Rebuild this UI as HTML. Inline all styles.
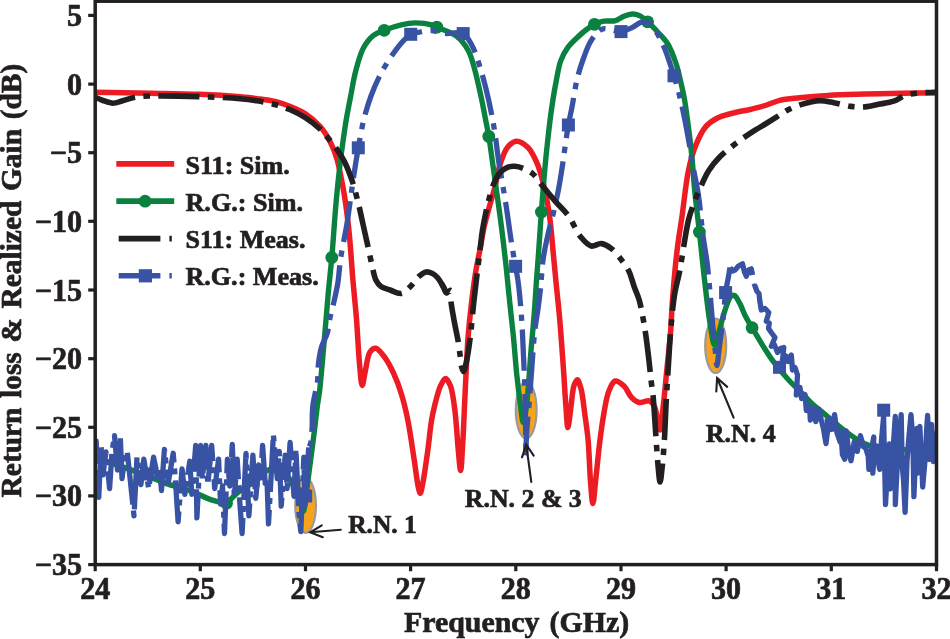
<!DOCTYPE html>
<html lang="en"><head><meta charset="utf-8"><title>Return loss &amp; Realized Gain</title>
<style>html,body{margin:0;padding:0;background:#fff;overflow:hidden}svg{display:block}text{font-family:"Liberation Serif","Times New Roman",Times,serif;font-weight:bold;fill:#231f20;stroke:#231f20;stroke-width:0.7px;stroke-linejoin:round}</style></head><body>
<svg width="950" height="639" viewBox="0 0 950 639">
<rect width="950" height="639" fill="#fff"/>
<defs><clipPath id="plot"><rect x="95.2" y="1.2" width="841.3" height="563.4"/></clipPath></defs>
<g fill="#f9a21b" stroke="#9a9a9c" stroke-width="2.2">
<ellipse cx="305.6" cy="505.5" rx="10.3" ry="27.4"/>
<ellipse cx="526.2" cy="410.1" rx="10.4" ry="28.2"/>
<ellipse cx="715.7" cy="345.8" rx="10.5" ry="27.2"/>
</g>
<g clip-path="url(#plot)" fill="none" stroke-linejoin="round">
<path d="M94.0 92.3C112.7 92.6 131.9 92.9 150.0 93.2C167.1 93.5 184.3 93.6 200.0 94.3C214.1 94.9 229.5 95.9 240.0 96.8C246.9 97.4 251.3 97.8 257.0 98.6C262.9 99.4 269.4 100.1 275.0 101.5C280.2 102.7 284.8 104.3 289.7 106.2C294.8 108.2 300.1 110.3 305.0 113.5C310.3 116.9 315.7 121.4 320.0 126.3C324.2 131.1 327.7 137.0 330.5 142.5C333.2 147.7 335.1 152.8 336.8 158.5C338.7 164.6 339.9 171.4 341.2 178.0C342.5 184.6 343.7 190.6 344.8 198.0C346.2 207.1 347.6 218.3 348.7 228.4C349.8 238.5 350.6 249.5 351.3 258.7C351.9 266.4 352.2 271.9 352.9 280.0C353.8 290.8 355.3 304.7 356.4 317.9C357.6 332.4 358.3 351.0 359.5 363.4C360.3 372.1 361.1 385.5 362.2 385.5C363.1 385.5 364.1 376.1 365.3 371.0C366.7 365.1 367.4 355.7 370.0 352.0C371.5 349.8 373.6 348.0 375.6 348.2C378.1 348.4 381.0 352.5 383.6 355.8C387.1 360.3 390.8 367.3 393.7 373.5C396.7 379.9 399.1 386.5 401.3 393.7C403.8 401.6 405.7 409.6 407.6 419.0C410.0 430.5 412.0 445.7 413.9 457.9C415.6 468.6 417.1 482.4 418.5 488.2C419.1 490.6 419.6 493.3 420.2 493.3C421.0 493.3 421.9 487.6 422.8 483.2C424.4 475.4 426.3 461.1 427.8 450.3C429.2 440.0 430.2 428.3 431.6 420.0C432.6 414.1 433.5 410.3 434.8 405.0C436.3 399.0 438.2 390.9 440.4 386.1C441.9 382.9 443.8 378.5 445.5 378.5C447.2 378.5 449.1 382.6 450.5 386.1C452.8 391.9 453.8 402.2 455.0 411.4C456.4 422.4 457.1 437.3 458.1 448.0C458.9 456.4 459.9 470.5 460.6 470.5C461.4 470.5 462.2 452.3 462.8 442.0C463.6 429.8 464.1 414.6 464.7 402.0C465.2 390.7 465.7 380.7 466.2 370.0C466.8 359.3 467.2 348.5 468.0 337.7C468.9 326.8 470.0 315.8 471.3 304.8C472.6 293.8 474.1 281.5 475.7 271.9C476.9 264.4 478.1 259.1 479.5 252.0C481.1 243.7 482.7 233.4 484.6 225.0C486.3 217.5 488.3 210.5 490.1 204.0C491.7 198.3 493.2 193.9 494.7 188.0C496.6 180.6 498.0 170.3 500.5 163.0C502.6 157.0 504.6 150.7 507.8 147.0C510.3 144.1 513.4 141.4 516.6 141.3C520.1 141.2 524.8 144.5 528.0 147.6C531.7 151.2 534.3 157.1 536.8 162.7C539.5 168.8 541.3 175.4 543.2 183.0C545.6 192.6 547.8 204.4 549.5 215.8C551.3 227.9 552.2 242.2 553.3 253.7C554.2 263.3 554.9 270.4 555.8 280.0C556.9 291.5 558.4 304.4 559.6 317.9C561.0 333.5 562.3 352.8 563.4 368.4C564.4 381.9 565.0 395.5 565.9 406.3C566.5 414.4 567.1 427.5 567.9 427.5C568.8 427.5 570.0 413.3 571.0 406.3C572.0 399.4 572.4 390.3 574.0 385.6C574.9 383.0 576.2 379.7 577.3 379.8C578.6 379.9 579.9 384.8 581.0 388.6C582.7 394.8 583.6 405.4 584.8 413.9C586.0 422.5 587.2 430.4 588.1 440.0C589.2 451.9 589.5 468.5 590.4 480.0C591.1 488.8 592.0 503.4 592.9 503.4C593.8 503.4 594.7 488.8 595.7 480.0C597.0 468.4 598.5 451.9 600.0 440.0C601.2 430.4 602.3 422.3 603.8 413.9C605.2 406.0 606.4 397.1 608.8 391.2C610.5 386.9 612.5 381.7 615.2 381.0C617.7 380.4 621.4 383.7 624.0 386.1C627.0 388.9 628.7 394.7 631.6 397.5C633.9 399.8 636.4 401.9 639.2 402.5C642.2 403.1 646.7 399.9 649.3 400.8C651.5 401.6 653.0 403.8 654.3 406.3C656.2 409.9 657.0 417.2 658.1 421.5C658.9 424.7 659.5 430.0 660.2 430.0C661.3 429.9 662.2 415.1 663.2 406.3C664.5 395.1 665.7 381.0 667.0 368.4C668.2 355.8 669.8 342.5 670.7 330.5C671.5 319.8 671.6 311.3 672.5 300.0C673.6 285.6 675.2 266.1 677.0 251.2C678.5 238.4 680.3 228.3 682.1 215.8C684.1 201.6 685.8 183.0 688.5 170.2C690.6 160.6 692.6 152.9 695.7 145.4C698.5 138.6 701.6 131.6 705.6 126.9C708.9 123.0 712.8 120.5 717.0 118.3C721.3 116.0 726.1 114.9 731.3 113.5C737.3 111.8 745.1 110.6 751.2 109.2C756.3 108.0 760.7 107.0 765.4 105.5C770.2 104.0 774.5 101.7 779.7 100.4C785.7 99.0 792.4 98.6 799.6 97.8C808.2 96.9 818.0 96.1 828.1 95.5C839.6 94.8 852.8 94.5 865.1 94.1C877.5 93.7 889.9 93.5 902.2 93.3C914.2 93.1 926.1 92.9 938.0 92.7" stroke="#ed1c24" stroke-width="5.5"/>
<path d="M94.0 457.5C101.1 459.8 107.9 461.9 115.3 464.4C123.4 467.1 132.1 470.2 140.5 473.3C149.0 476.5 157.3 480.4 165.8 483.4C174.1 486.3 183.1 488.1 191.0 491.0C198.2 493.6 204.9 497.9 211.3 499.8C216.6 501.4 222.1 503.5 226.4 502.3C230.4 501.2 232.7 496.4 236.5 493.5C241.0 490.1 246.7 487.1 251.7 483.4C256.9 479.5 262.1 473.1 266.9 470.7C270.4 468.9 273.8 467.6 277.0 468.2C280.5 468.8 284.2 471.8 287.0 475.0C290.4 478.7 292.7 485.2 295.0 490.0C297.0 494.2 298.5 498.3 300.0 502.0C301.3 505.2 302.4 511.1 303.3 511.0C304.2 510.9 304.6 505.7 305.2 502.0C306.2 496.3 307.0 487.6 308.0 480.0C309.0 471.9 310.2 463.3 311.3 455.0C312.4 446.7 313.5 438.3 314.5 430.0C315.5 421.7 316.5 412.3 317.5 405.0C318.3 399.4 318.9 396.4 319.7 390.0C321.0 378.7 322.6 359.1 324.0 343.2C325.5 326.7 326.9 307.9 328.3 292.6C329.5 279.8 330.6 270.6 331.8 257.5C333.3 240.7 334.7 217.4 336.3 200.0C337.6 185.5 339.2 171.0 340.5 160.0C341.4 152.2 342.3 146.7 343.2 140.0C344.2 133.3 345.0 127.0 346.2 120.0C347.5 112.4 349.1 104.1 350.7 96.0C352.3 87.7 353.6 78.8 355.8 70.7C357.9 62.9 360.0 54.2 363.4 48.0C366.2 42.9 369.7 38.4 373.5 35.4C376.8 32.8 380.2 31.9 384.2 30.3C389.2 28.3 395.8 26.0 401.3 24.8C406.1 23.7 410.5 22.9 415.3 22.9C420.5 22.9 427.7 23.7 431.6 24.8C433.9 25.4 434.5 26.1 436.8 27.1C441.3 29.1 451.5 32.2 456.9 36.4C461.9 40.3 465.6 45.6 468.5 51.0C471.4 56.4 472.6 62.1 474.5 68.7C476.8 76.8 479.0 87.1 480.9 96.0C482.8 104.6 484.5 113.9 485.9 121.3C487.0 127.0 487.9 130.8 488.8 136.4C490.0 143.4 491.2 152.7 492.2 160.0C493.1 166.4 493.7 170.6 494.7 177.9C496.3 189.6 499.1 208.4 501.0 223.4C502.9 237.9 504.6 252.9 506.1 266.3C507.4 278.2 508.3 288.6 509.5 300.0C510.7 311.7 512.1 323.3 513.3 335.5C514.6 348.3 515.5 362.6 516.8 375.0C518.0 386.0 519.4 397.3 520.6 406.0C521.5 412.4 522.2 422.5 523.2 422.5C524.1 422.5 525.4 413.6 526.2 408.0C527.3 400.4 528.0 390.3 528.8 381.0C529.6 371.2 530.1 361.4 531.0 350.7C532.0 338.8 533.4 325.0 534.3 312.8C535.2 301.5 535.8 290.3 536.5 280.0C537.2 270.7 537.8 263.5 538.5 253.7C539.4 241.4 540.3 226.3 541.4 212.0C542.5 196.9 543.9 179.1 545.2 165.3C546.2 154.4 547.1 145.8 548.2 136.0C549.3 126.1 550.6 115.3 552.0 106.0C553.2 97.9 554.3 90.9 555.8 83.4C557.3 75.8 558.4 67.1 560.8 60.6C562.8 55.2 565.5 50.6 568.4 46.7C570.9 43.2 573.9 40.6 576.8 37.9C579.6 35.3 582.3 32.8 585.3 30.5C588.2 28.2 591.3 25.9 594.5 24.3C597.5 22.8 600.5 21.8 603.8 21.2C607.5 20.5 612.1 21.6 615.6 20.6C618.7 19.7 621.1 17.3 624.0 16.2C626.7 15.1 629.7 14.1 632.4 14.0C634.8 13.9 636.9 14.4 639.2 15.4C642.0 16.7 644.8 19.3 647.6 21.8C650.9 24.7 654.4 28.4 657.7 32.0C661.1 35.8 664.9 39.2 667.8 44.0C671.2 49.6 673.9 57.2 676.2 64.0C678.4 70.6 679.8 77.9 681.3 84.2C682.6 89.8 683.6 94.5 684.6 100.0C685.6 105.8 686.4 111.9 687.2 118.0C688.1 124.2 688.9 130.4 689.7 137.0C690.6 144.3 691.4 151.8 692.2 160.0C693.1 169.4 693.6 179.6 694.7 190.5C695.9 203.3 697.8 217.9 699.4 232.0C701.0 246.7 702.5 262.0 704.2 277.0C706.0 292.1 707.8 310.0 709.9 322.5C711.4 331.4 712.9 345.2 714.7 345.3C716.3 345.4 718.2 334.1 719.9 328.2C721.8 321.8 723.5 314.1 725.6 308.3C727.3 303.6 729.2 297.3 731.3 295.8C732.3 295.1 733.4 295.0 734.5 295.5C736.3 296.4 738.1 300.4 739.8 303.4C741.8 307.1 743.4 312.2 745.5 316.3C747.5 320.3 749.6 323.5 752.1 327.7C755.2 332.9 759.0 339.5 762.6 345.3C766.3 351.1 769.8 356.8 774.0 362.4C778.3 368.2 783.1 373.9 788.2 379.5C793.5 385.3 801.2 392.3 805.3 396.6C807.7 399.1 808.5 400.3 811.0 402.7C815.1 406.6 822.4 412.2 828.1 417.0C833.8 421.7 839.4 426.9 845.2 431.2C850.8 435.4 856.4 439.7 862.3 442.6C867.8 445.3 873.6 447.0 879.4 448.3C885.0 449.6 890.8 450.6 896.5 450.6C902.2 450.6 907.4 449.1 913.6 448.3C921.0 447.3 929.9 446.1 938.0 445.0" stroke="#0b8140" stroke-width="5.4"/>
<g fill="#0b8140" stroke="none">
<circle cx="226.5" cy="503.2" r="6.4"/>
<circle cx="331.8" cy="257.5" r="6.4"/>
<circle cx="384.2" cy="30.3" r="6.4"/>
<circle cx="436.8" cy="27.1" r="6.4"/>
<circle cx="488.8" cy="136.4" r="6.4"/>
<circle cx="541.4" cy="212.0" r="6.4"/>
<circle cx="594.5" cy="24.3" r="6.4"/>
<circle cx="647.6" cy="21.8" r="6.4"/>
<circle cx="699.4" cy="232.0" r="6.4"/>
<circle cx="752.1" cy="327.7" r="6.4"/>
</g>
<path d="M94.0 470.0L96.2 441.0L98.8 497.3L101.0 445.0L103.0 474.8L106.0 452.0L109.6 488.5L112.0 452.0L114.5 435.7L117.5 470.0L120.3 436.6L122.0 478.7L124.6 458.0L127.2 451.3L130.1 478.7L134.0 515.9L137.0 457.2L140.9 484.6L143.8 459.2L148.7 488.5L153.6 457.2L157.5 476.8L159.5 468.0L161.5 490.5L164.4 449.4L168.3 482.6L173.2 453.3L175.2 476.8L178.1 521.8L182.0 468.9L184.9 494.4L189.8 461.1L191.8 494.4L195.7 445.5L196.9 517.9L200.6 445.5L202.3 478.7L205.9 445.5L207.8 484.6L211.7 445.5L214.7 488.5L218.6 459.2L220.6 504.2L222.5 486.0L224.5 533.5L227.4 459.2L229.8 486.0L232.3 444.5L234.3 496.4L237.2 459.2L239.5 498.0L242.1 533.5L246.0 453.3L248.9 515.9L252.9 455.2L255.8 498.3L258.7 465.0L260.6 478.0L262.6 445.5L265.6 488.5L267.0 480.0L268.5 523.8L273.4 434.7L277.3 478.7L279.3 451.3L281.2 506.1L285.2 455.2L287.1 488.5L290.1 442.5L294.0 496.4L295.9 449.4L298.9 512.0L300.8 531.6L303.8 457.2L305.2 505.0L306.7 478.7L308.7 447.4" stroke="#3953a4" stroke-width="5.3" stroke-dasharray="52 6 6 6"/>
<path d="M730.0 267.5L732.5 271.0L735.0 270.0L738.5 266.0L742.5 263.8L744.5 272.0L746.3 276.3L748.8 270.0L751.3 268.8L752.6 275.0 M752.6 287.0L755.0 286.0L757.0 291.5L759.0 293.5L759.8 301.0L761.3 310.0L765.0 308.5L768.8 312.5L766.3 321.3L769.3 323.0L768.5 328.5L771.3 332.5L775.0 337.5L771.3 346.3L774.3 344.5L777.5 352.5L780.5 348.5L783.8 347.5L782.5 360.0L786.0 356.0L788.0 361.5L791.3 355.0L792.5 370.0L795.0 367.5L797.5 375.0L796.3 395.0L800.0 387.5L801.5 398.5L805.0 394.5L806.3 410.5L809.6 406.0L810.3 420.0L813.5 407.6L815.8 421.6L819.0 409.1L821.3 420.0L823.6 429.5L826.0 443.6L829.1 418.5L831.5 429.5L834.6 414.6L836.9 432.6L840.1 442.0L840.9 431.0L842.4 454.5L844.8 459.2L846.3 431.0L848.7 451.4L851.0 460.8L854.2 442.0L857.3 451.4L860.4 435.7L863.5 446.7L865.0 445.9L868.2 456.1L868.9 469.3L871.4 450.0L873.8 437.0L872.8 473.2L874.5 450.0L876.7 445.9L878.0 460.0L879.7 469.3L881.5 440.0L883.6 416.5L885.5 504.5L887.5 470.0L889.4 443.9L890.4 488.9L893.0 450.0L895.3 416.5L895.3 504.5L898.0 450.0L901.2 414.6L902.2 465.4L903.5 480.0L905.1 512.4L907.1 459.5L909.0 436.0L911.0 414.6L912.9 440.0L913.9 496.7L915.4 460.0L916.8 428.3L917.8 473.2L919.8 426.3L921.3 455.0L922.7 487.0L925.6 453.7L926.6 430.0L927.6 415.5L929.5 459.5L931.5 424.3L933.5 461.5L935.0 434.0L938.0 448.0" stroke="#3953a4" stroke-width="5.3" stroke-dasharray="none"/>
<path d="M308.7 447.4C309.3 446.1 310.1 445.3 310.6 443.5C311.5 440.4 311.6 435.0 312.0 429.8C312.5 423.0 311.9 414.0 312.8 406.0C313.7 397.7 316.6 388.7 317.5 381.0C318.3 374.5 317.8 368.8 318.5 363.0C319.2 357.5 320.0 352.1 321.5 347.0C323.0 342.1 326.0 337.7 327.3 333.0C328.5 328.7 328.5 324.8 329.5 320.0C330.7 314.1 332.9 306.7 334.3 300.2C335.7 294.0 337.0 288.5 338.0 282.0C339.1 274.7 339.3 267.2 340.6 258.7C342.1 248.1 345.1 235.2 347.0 223.4C348.9 211.6 350.4 198.8 352.0 188.0C353.3 178.9 354.6 170.0 355.8 162.7C356.7 157.1 357.3 153.5 358.3 147.8C359.7 140.2 361.3 130.0 363.4 121.3C365.5 112.7 368.0 104.1 371.0 96.0C373.9 88.1 377.2 80.5 381.0 73.3C384.8 66.2 389.5 58.9 393.7 53.0C397.1 48.2 400.6 43.7 403.8 40.4C406.2 37.9 408.0 35.7 410.7 34.3C413.4 32.9 416.7 32.6 420.0 32.0C423.6 31.3 427.9 30.3 431.6 30.5C435.1 30.7 438.8 32.5 441.6 33.0C443.6 33.3 444.5 33.4 446.7 33.5C450.6 33.7 458.9 31.4 463.2 33.6C467.2 35.7 469.4 40.8 472.0 45.5C475.1 51.2 477.3 58.7 479.6 65.7C482.0 73.0 484.0 80.8 485.9 88.4C487.8 96.0 489.5 103.8 491.0 111.2C492.4 118.1 493.5 124.1 494.7 131.4C496.1 140.1 497.5 153.5 498.5 160.0C499.0 163.4 499.2 164.2 499.8 167.8C501.1 175.7 504.2 193.3 506.1 205.7C508.0 217.7 509.5 230.2 511.2 241.0C512.6 250.1 514.2 259.2 515.4 266.3C516.3 271.6 517.1 274.4 517.9 280.0C519.1 288.6 520.3 301.1 521.2 312.8C522.2 326.2 522.9 341.9 523.5 355.8C524.1 368.8 524.6 381.1 525.0 393.7C525.3 406.3 525.5 420.4 525.6 431.6C525.7 440.5 525.7 447.5 525.8 455.4" stroke="#3953a4" stroke-width="5.3" stroke-dasharray="41 8.5 6.5 8.5" stroke-dashoffset="-16"/>
<path d="M525.8 455.4C526.1 447.5 526.2 440.0 526.7 431.6C527.3 422.1 528.5 411.6 529.3 401.3C530.2 390.6 530.9 379.8 531.8 368.4C532.7 356.2 533.6 341.4 534.8 330.5C535.8 322.1 537.1 315.6 538.1 308.3C539.0 301.3 539.8 295.1 540.6 287.6C541.5 278.8 541.9 268.0 543.2 258.7C544.5 250.0 546.4 241.4 548.2 233.5C549.8 226.4 551.7 220.3 553.3 213.3C555.0 205.9 556.8 198.1 558.3 190.5C559.8 182.9 561.0 174.9 562.1 167.8C563.1 161.5 563.7 156.4 564.6 150.0C565.7 142.4 567.0 132.7 568.4 125.0C569.6 118.2 570.9 112.9 572.2 106.0C573.8 97.6 575.2 86.8 577.3 78.3C579.1 71.0 581.2 64.5 583.6 58.0C585.9 51.9 587.8 45.4 591.2 40.4C594.3 35.9 598.5 30.4 602.5 29.0C605.6 27.9 608.9 29.6 612.0 30.0C615.0 30.4 617.9 31.9 621.0 31.6C624.4 31.3 628.2 29.4 631.6 27.8C635.1 26.2 638.5 22.9 641.7 22.2C644.3 21.6 647.0 21.5 649.3 22.7C652.2 24.3 654.5 29.0 656.9 32.8C659.6 37.2 662.1 42.7 664.4 48.0C666.8 53.6 669.0 60.6 670.7 65.7C672.0 69.5 672.8 71.8 674.0 75.8C675.7 81.4 677.9 89.0 679.6 96.0C681.4 103.3 683.0 110.7 684.6 118.7C686.4 127.5 688.4 138.9 689.7 146.5C690.6 151.8 690.8 154.4 691.7 160.0C693.2 169.1 696.7 183.5 698.5 195.6C700.4 208.2 701.2 222.3 702.8 234.2C704.1 244.4 705.9 253.2 707.1 262.7C708.3 272.2 709.0 281.3 709.9 291.2C710.9 302.1 711.8 314.7 712.8 325.4C713.7 334.8 714.6 344.6 715.4 352.0C715.9 357.3 716.3 365.5 716.9 365.5C717.5 365.5 718.2 356.5 718.8 352.0C719.4 347.4 720.0 342.7 720.6 338.0C721.2 333.1 722.0 328.1 722.6 323.0C723.2 317.8 723.7 312.2 724.2 307.0C724.7 302.1 724.9 297.5 725.6 292.6C726.3 287.5 727.6 281.6 728.4 277.0C729.0 273.4 729.5 270.7 730.0 267.5" stroke="#3953a4" stroke-width="5.3" stroke-dasharray="41 8.5 6.5 8.5" stroke-dashoffset="2"/>
<g fill="#3953a4" stroke="none">
<rect x="141.6" y="467.5" width="13" height="13"/>
<rect x="194.1" y="448.5" width="13" height="13"/>
<rect x="246.7" y="473.5" width="13" height="13"/>
<rect x="299.2" y="489.5" width="13" height="13"/>
<rect x="351.8" y="141.3" width="13" height="13"/>
<rect x="404.2" y="27.8" width="13" height="13"/>
<rect x="456.7" y="27.1" width="13" height="13"/>
<rect x="509.1" y="259.8" width="13" height="13"/>
<rect x="561.9" y="118.5" width="13" height="13"/>
<rect x="614.5" y="25.1" width="13" height="13"/>
<rect x="667.5" y="69.3" width="13" height="13"/>
<rect x="719.1" y="286.1" width="13" height="13"/>
<rect x="773.0" y="360.8" width="13" height="13"/>
<rect x="824.6" y="418.5" width="13" height="13"/>
<rect x="877.2" y="403.7" width="13" height="13"/>
</g>
<path d="M441.7 283.8C442.7 285.5 443.5 287.2 444.3 288.8C445.0 290.2 445.4 292.4 446.3 292.7C447.0 292.9 447.9 292.0 448.6 291.6C449.4 291.2 450.3 290.0 450.8 290.3" stroke="#231f20" stroke-width="5.6" stroke-linecap="butt"/>
<path d="M94.0 96.6C97.0 97.9 99.9 99.4 103.0 100.5C106.2 101.6 109.7 103.2 113.0 103.2C116.1 103.2 118.7 101.9 122.0 101.0C125.9 99.9 130.5 98.0 135.0 97.2C139.8 96.3 143.5 96.2 150.0 96.0C161.8 95.6 184.3 96.1 200.0 96.6C214.1 97.1 229.5 97.8 240.0 98.7C246.9 99.3 251.3 99.9 257.0 100.8C262.9 101.8 269.3 103.0 275.0 104.5C280.2 105.9 284.8 107.4 289.7 109.5C294.8 111.7 300.1 114.3 305.0 117.5C310.2 120.8 315.9 125.2 320.0 129.0C323.3 132.0 325.4 134.9 328.0 138.0C330.6 141.1 333.1 143.9 335.6 147.5C338.5 151.6 341.8 156.4 344.4 161.5C347.3 167.2 349.7 173.7 352.0 180.4C354.4 187.6 356.4 195.6 358.3 203.2C360.2 210.8 361.7 218.4 363.4 226.0C365.1 233.5 366.9 241.5 368.4 248.6C369.8 254.9 370.9 260.8 372.2 266.3C373.4 271.2 374.2 276.6 376.0 280.2C377.4 282.9 378.8 284.9 381.0 286.5C383.4 288.3 386.8 288.9 390.0 290.0C393.5 291.2 397.8 294.0 401.3 293.4C404.8 292.8 408.0 288.8 410.9 286.0C413.9 283.1 416.2 278.8 419.0 276.4C421.3 274.4 423.9 272.3 426.3 271.9C428.2 271.6 430.2 272.4 432.0 273.2C433.9 274.1 435.7 275.6 437.3 277.3C439.0 279.1 440.5 281.7 441.7 283.8C442.7 285.5 443.5 287.2 444.3 288.8C445.0 290.2 445.4 292.4 446.3 292.7C447.0 292.9 447.9 292.0 448.6 291.6C449.4 291.2 450.3 290.0 450.8 290.3" stroke="#231f20" stroke-width="5.6" stroke-dasharray="41 8.4 6.6 8.4" stroke-dashoffset="-2.1"/>
<path d="M451.0 301.5C451.5 306.9 452.9 313.6 454.0 320.0C455.2 326.8 457.0 334.6 458.1 341.0C459.0 346.4 459.6 351.5 460.2 356.0C460.7 359.7 460.7 363.2 461.4 366.0C461.9 368.1 462.9 371.5 463.6 371.5C464.3 371.5 464.9 367.9 465.4 366.0C466.0 364.0 466.4 362.4 466.9 359.6C467.9 354.5 469.2 345.8 470.2 337.7C471.4 327.9 472.4 315.4 473.5 304.8C474.6 295.0 475.7 285.6 476.8 276.3C477.9 267.4 479.0 258.2 480.0 250.0C480.9 242.9 481.4 237.0 482.5 230.0C483.8 222.3 485.5 213.5 487.4 205.7C489.2 198.3 491.1 190.1 493.5 184.2C495.4 179.7 497.2 175.7 499.8 172.8C502.0 170.3 504.7 168.4 507.4 167.3C509.8 166.3 512.4 166.2 515.0 166.3C517.6 166.5 520.3 167.2 523.0 168.3C526.2 169.6 529.9 171.3 533.0 174.0C536.7 177.2 539.6 182.3 543.2 186.7C547.2 191.6 551.5 197.0 555.8 201.9C559.9 206.7 564.5 210.4 568.4 215.8C572.9 222.0 576.5 232.0 581.0 237.3C584.3 241.2 587.6 245.1 591.2 246.0C594.4 246.8 598.0 243.2 601.3 243.6C604.7 244.0 608.3 246.2 611.4 248.6C615.1 251.4 618.5 256.1 621.5 260.0C624.3 263.7 626.9 267.2 629.0 271.4C631.2 276.0 632.4 281.6 634.1 286.5C635.8 291.1 637.8 295.1 639.2 300.0C640.8 305.5 641.9 312.2 643.0 317.9C644.0 323.1 644.6 327.1 645.5 333.0C646.7 341.4 648.3 354.5 649.3 363.4C650.1 370.4 650.6 376.5 651.3 382.3C651.9 387.3 652.5 390.5 653.1 396.2C654.0 405.3 654.8 420.0 655.6 431.6C656.4 442.9 657.1 455.7 658.0 465.0C658.6 471.6 659.4 482.0 660.1 482.0C660.8 482.0 661.7 471.2 662.4 465.0C663.2 457.5 663.8 449.2 664.4 440.0C665.1 428.5 665.5 413.7 666.2 401.3C666.8 389.9 667.5 379.8 668.2 368.4C669.0 356.2 669.6 342.9 670.7 330.5C671.7 318.5 672.8 305.6 674.5 295.0C675.9 286.3 678.0 279.8 679.6 271.4C681.4 261.9 683.0 250.2 684.6 241.0C685.9 233.3 687.0 226.3 688.5 220.0C689.8 214.8 691.0 211.1 692.8 206.0C695.1 199.7 698.6 191.5 701.4 185.3C703.8 180.0 705.6 175.6 708.5 171.0C711.6 166.1 715.7 161.1 719.9 156.8C724.2 152.4 729.1 148.7 734.1 144.8C739.5 140.6 745.7 136.2 751.2 132.6C756.1 129.4 760.9 126.7 765.4 124.0C769.4 121.5 773.0 119.3 776.8 116.9C780.6 114.5 784.1 111.9 788.2 109.8C792.6 107.6 797.4 105.6 802.5 104.1C807.9 102.5 814.2 100.9 819.6 100.7C824.5 100.6 828.9 101.8 833.8 102.7C839.3 103.7 845.4 105.7 850.9 106.4C855.8 107.0 860.4 107.3 865.1 106.9C869.9 106.5 874.6 105.1 879.4 104.1C884.1 103.2 889.2 102.7 893.6 101.2C897.7 99.8 901.1 96.8 905.0 95.5C908.7 94.2 912.0 93.8 916.4 93.3C922.4 92.6 930.8 92.5 938.0 92.1" stroke="#231f20" stroke-width="5.6" stroke-dasharray="41.2 8.5 6.5 8.5" stroke-dashoffset="0"/>
</g>
<g stroke="#231f20" stroke-width="3.5" fill="none" stroke-linecap="butt">
<rect x="95.2" y="1.2" width="841.3" height="563.4"/>
</g>
<g stroke="#231f20" stroke-width="3.2" fill="none">
<line x1="95.2" y1="564.6" x2="95.2" y2="571.2"/>
<line x1="200.3" y1="564.6" x2="200.3" y2="571.2"/>
<line x1="305.5" y1="564.6" x2="305.5" y2="571.2"/>
<line x1="410.6" y1="564.6" x2="410.6" y2="571.2"/>
<line x1="515.8" y1="564.6" x2="515.8" y2="571.2"/>
<line x1="621.0" y1="564.6" x2="621.0" y2="571.2"/>
<line x1="726.1" y1="564.6" x2="726.1" y2="571.2"/>
<line x1="831.3" y1="564.6" x2="831.3" y2="571.2"/>
<line x1="936.5" y1="564.6" x2="936.5" y2="571.2"/>
<line x1="88.2" y1="15.4" x2="95.2" y2="15.4"/>
<line x1="88.2" y1="84.1" x2="95.2" y2="84.1"/>
<line x1="88.2" y1="152.7" x2="95.2" y2="152.7"/>
<line x1="88.2" y1="221.3" x2="95.2" y2="221.3"/>
<line x1="88.2" y1="290.0" x2="95.2" y2="290.0"/>
<line x1="88.2" y1="358.7" x2="95.2" y2="358.7"/>
<line x1="88.2" y1="427.3" x2="95.2" y2="427.3"/>
<line x1="88.2" y1="495.9" x2="95.2" y2="495.9"/>
<line x1="88.2" y1="564.6" x2="95.2" y2="564.6"/>
</g>
<g font-size="30.1" text-anchor="middle">
<text transform="translate(95.2 598.6) scale(1 1.015)">24</text>
<text transform="translate(200.3 598.6) scale(1 1.015)">25</text>
<text transform="translate(305.5 598.6) scale(1 1.015)">26</text>
<text transform="translate(410.6 598.6) scale(1 1.015)">27</text>
<text transform="translate(515.8 598.6) scale(1 1.015)">28</text>
<text transform="translate(621.0 598.6) scale(1 1.015)">29</text>
<text transform="translate(726.1 598.6) scale(1 1.015)">30</text>
<text transform="translate(831.3 598.6) scale(1 1.015)">31</text>
<text transform="translate(936.5 598.6) scale(1 1.015)">32</text>
</g>
<g font-size="30.1" text-anchor="end">
<text transform="translate(82.0 25.9) scale(1 1.015)">5</text>
<text transform="translate(82.0 94.6) scale(1 1.015)">0</text>
<text transform="translate(82.0 163.2) scale(1 1.015)">−5</text>
<text transform="translate(82.0 231.8) scale(1 1.015)">−10</text>
<text transform="translate(82.0 300.5) scale(1 1.015)">−15</text>
<text transform="translate(82.0 369.2) scale(1 1.015)">−20</text>
<text transform="translate(82.0 437.8) scale(1 1.015)">−25</text>
<text transform="translate(82.0 506.4) scale(1 1.015)">−30</text>
<text transform="translate(82.0 575.1) scale(1 1.015)">−35</text>
</g>
<text x="516.6" y="632.2" font-size="29.9" text-anchor="middle" style="word-spacing:2.6px">Frequency (GHz)</text>
<text transform="translate(21.0 280.6) rotate(-90)" font-size="29.4" text-anchor="middle" style="word-spacing:2.3px">Return loss &amp; Realized Gain (dB)</text>
<g fill="none">
<line x1="116.3" y1="163.9" x2="174.2" y2="163.9" stroke="#ed1c24" stroke-width="5.8"/>
<line x1="116.3" y1="201.2" x2="174.2" y2="201.2" stroke="#0b8140" stroke-width="5.7"/>
<circle cx="145.1" cy="201.2" r="6.4" fill="#0b8140"/>
<path d="M118.7 238.6H160.4M169.4 238.6H171.8" stroke="#231f20" stroke-width="5.9"/>
<path d="M118.7 275.8H160.4M169.4 275.8H171.8" stroke="#3953a4" stroke-width="5.6"/>
<rect x="138.8" y="269.2" width="13.2" height="13.2" fill="#3953a4"/>
</g>
<g font-size="26.0">
<text x="185.5" y="173.6" textLength="104.3" lengthAdjust="spacingAndGlyphs">S11: Sim.</text>
<text x="185.5" y="210.6" textLength="117.5" lengthAdjust="spacingAndGlyphs">R.G.: Sim.</text>
<text x="185.5" y="247.9" textLength="120.0" lengthAdjust="spacingAndGlyphs">S11: Meas.</text>
<text x="185.5" y="284.9" textLength="133.2" lengthAdjust="spacingAndGlyphs">R.G.: Meas.</text>
</g>
<g font-size="26.0">
<text x="348.2" y="533.4" textLength="68.6" lengthAdjust="spacingAndGlyphs">R.N. 1</text>
<text x="464.8" y="506.6" textLength="117.0" lengthAdjust="spacingAndGlyphs">R.N. 2 &amp; 3</text>
<text x="705.7" y="442.1" textLength="70.0" lengthAdjust="spacingAndGlyphs">R.N. 4</text>
</g>
<g stroke="#231f20" stroke-width="2.1" fill="none" stroke-linecap="round" stroke-linejoin="miter">
<path d="M340.8 529.8L310.2 532.3M321.8 525.4L310.2 532.3L322.8 537.2"/>
<path d="M531.3 481.9L526.2 444.5M533.7 455.7L526.2 444.5L522.0 457.3"/>
<path d="M733.6 417.7L717.1 378.0M727.2 386.9L717.1 378.0L716.3 391.5"/>
</g>
</svg></body></html>
